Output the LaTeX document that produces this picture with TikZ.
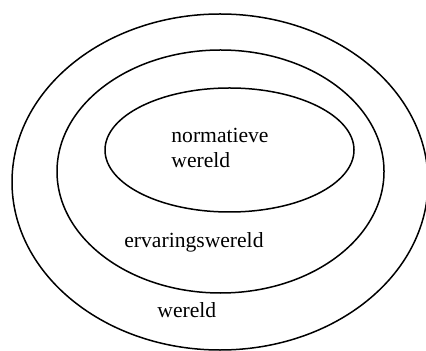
\documentclass[tikz,border=0pt]{standalone}
\usepackage{fontspec}
\setmainfont{Liberation Serif}
\usetikzlibrary{shapes.geometric}

\begin{document}
\begin{tikzpicture}[
  x=0.5pt, y=-0.5pt,
  ring/.style={draw, ellipse, line width=0.75pt, inner sep=0pt},
  lbl/.style={font=\fontsize{10.8}{12.5}\selectfont, align=left, inner sep=0pt, anchor=base west}
]
\useasboundingbox (0,0) rectangle (426,351);
% three nested worlds
\node[ring, minimum width=416pt/2, minimum height=336pt/2] (outer) at (220,182) {};
\node[ring, minimum width=327pt/2, minimum height=243pt/2] (middle) at (220.5,171.5) {};
\node[ring, minimum width=249pt/2, minimum height=124pt/2] (inner) at (229.5,150) {};
% labels
\node[lbl] (norm) at (171,168) {normatieve\\wereld};
\node[lbl] (erv) at (124,248) {ervaringswereld};
\node[lbl] (wer) at (157,317) {wereld};
\end{tikzpicture}
\end{document}
